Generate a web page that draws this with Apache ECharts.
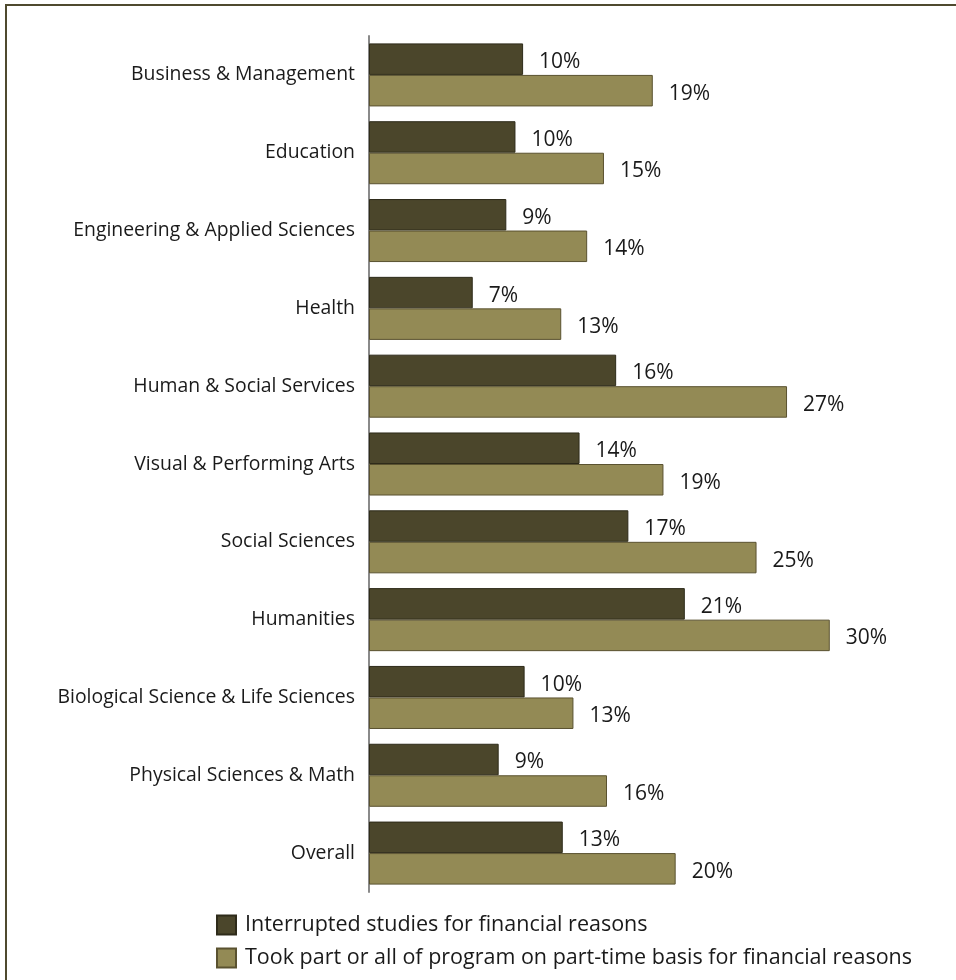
<!DOCTYPE html>
<html>
<head>
<meta charset="utf-8">
<script src="https://cdn.jsdelivr.net/npm/echarts@6/dist/echarts.min.js"></script>
<style>
  html, body { margin: 0; padding: 0; background: #fff; }
  #chart { width: 956px; height: 980px; }
</style>
</head>
<body>
<div id="chart"></div>
<script>
var categories = [
  'Business & Management',
  'Education',
  'Engineering & Applied Sciences',
  'Health',
  'Human & Social Services',
  'Visual & Performing Arts',
  'Social Sciences',
  'Humanities',
  'Biological Science & Life Sciences',
  'Physical Sciences & Math',
  'Overall'
]
// bar lengths, labels show them rounded
var interrupted = [10.1, 9.6, 9.0, 6.8, 16.2, 13.8, 17.0, 20.7, 10.2, 8.5, 12.7]
var partTime = [18.6, 15.4, 14.3, 12.6, 27.4, 19.3, 25.4, 30.2, 13.4, 15.6, 20.1]
var seriesNames = [
  'Interrupted studies for financial reasons',
  'Took part or all of program on part-time basis for financial reasons'
]

var font = '"Open Sans", "Noto Sans", sans-serif'

var myChart = echarts.init(document.getElementById('chart'))

function pctLabel(p) {
  return Math.round(p.value) + '%'
}

var option = {
  animation: false,
  textStyle: { fontFamily: font },
  graphic: [{
    type: 'rect',
    shape: { x: 6, y: 5, width: 1200, height: 1200 },
    style: { fill: 'none', stroke: '#4f4a2f', lineWidth: 2 },
    silent: true
  }],
  grid: {
    left: 369,
    right: 53,
    top: 36,
    bottom: 88
  },
  legend: {
    orient: 'vertical',
    left: 211,
    top: 909,
    itemWidth: 19,
    itemHeight: 19,
    itemGap: 11,
    icon: 'rect',
    textStyle: { fontFamily: font, fontSize: 21.5, lineHeight: 19, color: '#1a1a1a', padding: [0, 0, 0, 4] },
    data: seriesNames
  },
  xAxis: {
    type: 'value',
    min: 0,
    max: 35,
    show: false
  },
  yAxis: {
    type: 'category',
    inverse: true,
    data: categories,
    axisLine: { show: true, lineStyle: { color: '#8a8a8a', width: 2 } },
    axisTick: { show: false },
    axisLabel: {
      fontFamily: font,
      fontSize: 19.4,
      color: '#1a1a1a',
      margin: 14,
      padding: [4, 0, 0, 0]
    }
  },
  series: [{
    name: seriesNames[0],
    type: 'bar',
    data: interrupted,
    barGap: '0%',
    barCategoryGap: '19%',
    itemStyle: { color: '#4b462b', borderColor: '#2e2b1a', borderWidth: 1 },
    label: {
      show: true,
      position: 'right',
      distance: 16,
      offset: [0, 3],
      formatter: pctLabel,
      fontFamily: font,
      fontSize: 21,
      color: '#1a1a1a'
    }
  }, {
    name: seriesNames[1],
    type: 'bar',
    data: partTime,
    itemStyle: { color: '#938a55', borderColor: '#5a5230', borderWidth: 1 },
    label: {
      show: true,
      position: 'right',
      distance: 16,
      offset: [0, 3],
      formatter: pctLabel,
      fontFamily: font,
      fontSize: 21,
      color: '#1a1a1a'
    }
  }]
}
myChart.setOption(option)
</script>
</body>
</html>
